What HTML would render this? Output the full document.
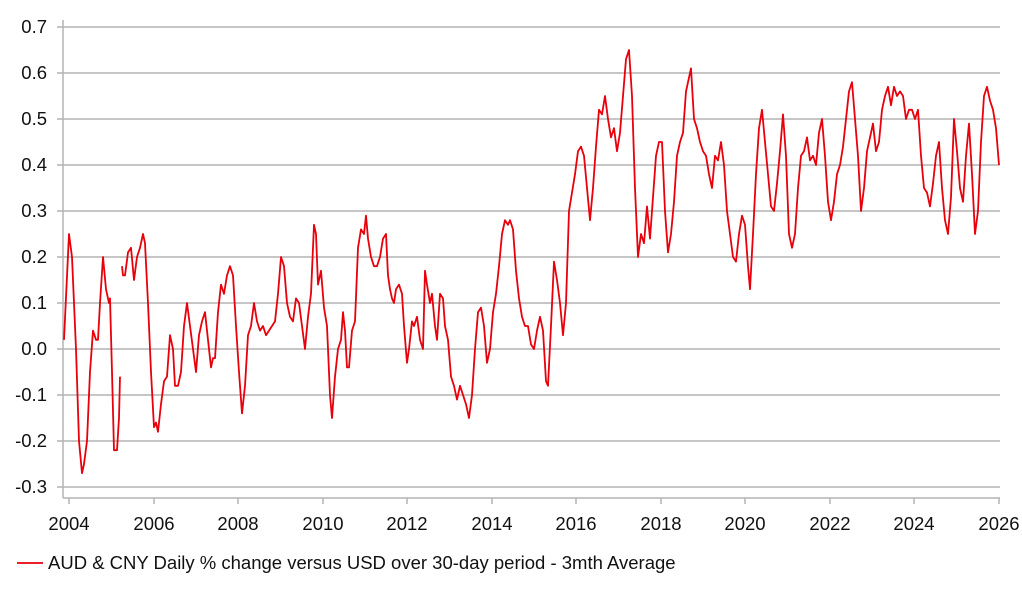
<!DOCTYPE html>
<html><head><meta charset="utf-8"><style>
body{margin:0;background:#fff;}
svg{display:block;font-family:"Liberation Sans",sans-serif;}
</style></head><body>
<svg width="1022" height="597" xmlns="http://www.w3.org/2000/svg">
<g stroke="#b3b3b3" stroke-width="1.5">
<line x1="63" x2="1000" y1="27" y2="27"/><line x1="63" x2="1000" y1="73" y2="73"/>
<line x1="63" x2="1000" y1="119" y2="119"/><line x1="63" x2="1000" y1="165" y2="165"/>
<line x1="63" x2="1000" y1="211" y2="211"/><line x1="63" x2="1000" y1="257" y2="257"/>
<line x1="63" x2="1000" y1="303" y2="303"/><line x1="63" x2="1000" y1="349" y2="349"/>
<line x1="63" x2="1000" y1="395" y2="395"/><line x1="63" x2="1000" y1="441" y2="441"/>
<line x1="63" x2="1000" y1="487" y2="487"/>
<line x1="63" x2="63" y1="20" y2="498"/>
<line x1="63" x2="1000" y1="498" y2="498"/>
<line x1="57" x2="63" y1="27" y2="27"/><line x1="57" x2="63" y1="73" y2="73"/><line x1="57" x2="63" y1="119" y2="119"/><line x1="57" x2="63" y1="165" y2="165"/><line x1="57" x2="63" y1="211" y2="211"/><line x1="57" x2="63" y1="257" y2="257"/><line x1="57" x2="63" y1="303" y2="303"/><line x1="57" x2="63" y1="349" y2="349"/><line x1="57" x2="63" y1="395" y2="395"/><line x1="57" x2="63" y1="441" y2="441"/><line x1="57" x2="63" y1="487" y2="487"/>
<line x1="69" x2="69" y1="498" y2="504"/><line x1="154" x2="154" y1="498" y2="504"/><line x1="238" x2="238" y1="498" y2="504"/><line x1="323" x2="323" y1="498" y2="504"/><line x1="407" x2="407" y1="498" y2="504"/><line x1="492" x2="492" y1="498" y2="504"/><line x1="576" x2="576" y1="498" y2="504"/><line x1="661" x2="661" y1="498" y2="504"/><line x1="745" x2="745" y1="498" y2="504"/><line x1="830" x2="830" y1="498" y2="504"/><line x1="914" x2="914" y1="498" y2="504"/><line x1="999" x2="999" y1="498" y2="504"/>
</g>
<g font-size="18.5" fill="#111" text-anchor="end">
<text x="47" y="33">0.7</text><text x="47" y="79">0.6</text><text x="47" y="125">0.5</text><text x="47" y="171">0.4</text><text x="47" y="217">0.3</text><text x="47" y="263">0.2</text><text x="47" y="309">0.1</text><text x="47" y="355">0.0</text><text x="47" y="401">-0.1</text><text x="47" y="447">-0.2</text><text x="47" y="493">-0.3</text>
</g>
<g font-size="18.5" fill="#111" text-anchor="middle">
<text x="69" y="530">2004</text><text x="154" y="530">2006</text><text x="238" y="530">2008</text><text x="323" y="530">2010</text><text x="407" y="530">2012</text><text x="492" y="530">2014</text><text x="576" y="530">2016</text><text x="661" y="530">2018</text><text x="745" y="530">2020</text><text x="830" y="530">2022</text><text x="914" y="530">2024</text><text x="999" y="530">2026</text>
</g>
<g transform="matrix(1,0,0,-460,0,349)" fill="none" stroke="#e8000b" stroke-width="1.8" stroke-linejoin="round">
<polyline vector-effect="non-scaling-stroke" points="64,0.02 69,0.25 72,0.2 76,0.0 79,-0.2 82,-0.27 84,-0.25 87,-0.2 90,-0.05 93,0.04 96,0.02 98,0.02 100,0.1 103,0.2 106,0.13 109,0.1 110,0.11 112,-0.05 114,-0.22 117,-0.22 119,-0.15 120,-0.06"/>
<polyline vector-effect="non-scaling-stroke" points="122,0.18 123,0.16 125,0.16 128,0.21 131,0.22 134,0.15 137,0.2 140,0.22 143,0.25 145,0.23 148,0.1 151,-0.05 154,-0.17 156,-0.16 158,-0.18 161,-0.12 164,-0.07 167,-0.06 170,0.03 173,0.0 175,-0.08 178,-0.08 181,-0.05 184,0.05 187,0.1 190,0.05 193,0.0 196,-0.05 199,0.03 202,0.06 205,0.08 208,0.02 211,-0.04 213,-0.02 215,-0.02 218,0.08 221,0.14 224,0.12 227,0.16 230,0.18 233,0.16 236,0.05 239,-0.05 242,-0.14 245,-0.08 248,0.03 251,0.05 254,0.1 257,0.06 260,0.04 263,0.05 266,0.03 269,0.04 272,0.05 275,0.06 278,0.12 281,0.2 284,0.18 287,0.1 290,0.07 293,0.06 296,0.11 299,0.1 302,0.05 305,0.0 308,0.07 311,0.12 314,0.27 316,0.25 318,0.14 321,0.17 324,0.09 327,0.05 330,-0.1 332,-0.15 335,-0.06 338,0.0 341,0.02 343,0.08 345,0.04 347,-0.04 349,-0.04 352,0.04 355,0.06 358,0.22 361,0.26 364,0.25 366,0.29 368,0.24 371,0.2 374,0.18 377,0.18 380,0.2 383,0.24 386,0.25 388,0.16 390,0.13 392,0.11 394,0.1 396,0.13 399,0.14 402,0.12 404,0.05 407,-0.03 409,0.0 412,0.06 414,0.05 417,0.07 420,0.02 423,0.0 425,0.17 427,0.14 430,0.1 432,0.12 435,0.05 437,0.02 440,0.12 443,0.11 445,0.05 448,0.02 451,-0.06 454,-0.08 457,-0.11 460,-0.08 463,-0.1 466,-0.12 469,-0.15 472,-0.1 475,0.0 478,0.08 481,0.09 484,0.05 487,-0.03 490,0.0 493,0.08 496,0.12 499,0.18 502,0.25 505,0.28 508,0.27 510,0.28 513,0.26 516,0.17 519,0.11 522,0.07 525,0.05 528,0.05 531,0.01 534,0.0 537,0.04 540,0.07 543,0.04 546,-0.07 548,-0.08 551,0.05 554,0.19 557,0.15 560,0.1 563,0.03 566,0.1 569,0.3 572,0.34 575,0.38 578,0.43 581,0.44 584,0.42 587,0.35 590,0.28 593,0.35 596,0.44 599,0.52 602,0.51 605,0.55 608,0.5 611,0.46 614,0.48 617,0.43 620,0.47 623,0.55 626,0.63 629,0.65 632,0.55 635,0.35 638,0.2 641,0.25 644,0.23 647,0.31 650,0.24 653,0.33 656,0.42 659,0.45 662,0.45 665,0.3 668,0.21 671,0.25 674,0.32 677,0.42 680,0.45 683,0.47 686,0.56 689,0.59 691,0.61 694,0.5 697,0.48 700,0.45 703,0.43 706,0.42 709,0.38 712,0.35 715,0.42 718,0.41 721,0.45 724,0.4 727,0.3 730,0.25 733,0.2 736,0.19 739,0.25 742,0.29 745,0.27 748,0.18 750,0.13 753,0.25 756,0.38 759,0.48 762,0.52 765,0.45 768,0.38 771,0.31 774,0.3 777,0.36 780,0.43 783,0.51 786,0.42 789,0.25 792,0.22 795,0.25 798,0.35 801,0.42 804,0.43 807,0.46 810,0.41 813,0.42 816,0.4 819,0.47 822,0.5 825,0.42 828,0.32 831,0.28 834,0.32 837,0.38 840,0.4 843,0.44 846,0.5 849,0.56 852,0.58 855,0.5 858,0.42 861,0.3 864,0.35 867,0.43 870,0.46 873,0.49 876,0.43 879,0.45 882,0.52 885,0.55 888,0.57 891,0.53 894,0.57 897,0.55 900,0.56 903,0.55 906,0.5 909,0.52 912,0.52 915,0.5 918,0.52 921,0.42 924,0.35 927,0.34 930,0.31 933,0.36 936,0.42 939,0.45 942,0.35 945,0.28 948,0.25 951,0.33 954,0.5 957,0.43 960,0.35 963,0.32 966,0.42 969,0.49 972,0.38 975,0.25 978,0.3 981,0.45 984,0.55 987,0.57 990,0.54 993,0.52 996,0.48 999,0.4"/>
</g>
<line x1="17" x2="43" y1="563" y2="563" stroke="#e8000b" stroke-width="1.8"/>
<text x="48" y="569" font-size="18.5" fill="#111">AUD &amp; CNY Daily % change versus USD over 30-day period - 3mth Average</text>
</svg>
</body></html>
